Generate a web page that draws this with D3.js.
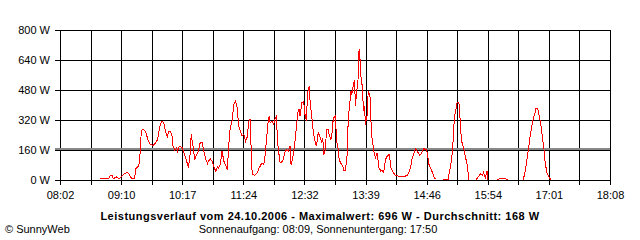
<!DOCTYPE html>
<html>
<head>
<meta charset="utf-8">
<script src="https://cdn.jsdelivr.net/npm/d3@7"></script>
<style>
    body { margin: 0; background: #fff; }
    svg { display: block; font-family: "Liberation Sans", Arial, sans-serif; }
</style>
</head>
<body>
<div id="chart"></div>
<script>
// values
const yTicks = [0, 160, 320, 480, 640, 800];
const xTickLabels = ["08:02", "09:10", "10:17", "11:24", "12:32", "13:39", "14:46", "15:54", "17:01", "18:08"];
const avgWatt = 168;

// [time, watt]; null watt = no data (gap in line)
const samples = [
    ["08:46", 4], ["08:55", 4], ["08:57", 21], ["08:59", 21], ["09:00", 4], ["09:04", 14], ["09:06", 4], ["09:08", 9],
    ["09:10", 21], ["09:13", 32], ["09:16", 39], ["09:17", 32], ["09:19", 14], ["09:21", 4], ["09:23", 4], ["09:24", 21],
    ["09:25", 58], ["09:28", 71], ["09:29", 98], ["09:30", 160], ["09:31", 258], ["09:33", 270], ["09:35", 258], ["09:36", 249],
    ["09:39", 204], ["09:41", 187], ["09:44", 181], ["09:47", 196], ["09:49", 213], ["09:50", 249], ["09:52", 293], ["09:54", 311],
    ["09:56", 299], ["09:58", 249], ["10:00", 228], ["10:01", 258], ["10:03", 258], ["10:05", 231], ["10:06", 178], ["10:08", 156],
    ["10:10", 169], ["10:11", 151], ["10:13", 178], ["10:16", 169], ["10:18", 142], ["10:20", 116], ["10:22", 80], ["10:23", 68],
    ["10:25", 142], ["10:26", 240], ["10:28", 178], ["10:30", 107], ["10:32", 133], ["10:34", 151], ["10:36", 199], ["10:38", 199],
    ["10:40", 151], ["10:42", 107], ["10:44", 85], ["10:45", 98], ["10:47", 110], ["10:49", 98], ["10:51", 68], ["10:53", 44],
    ["10:55", 68], ["10:56", 62], ["10:58", 80], ["11:00", 151], ["11:02", 98], ["11:04", 75], ["11:06", 53], ["11:07", 160],
    ["11:09", 276], ["11:11", 311], ["11:13", 400], ["11:15", 418], ["11:17", 373], ["11:18", 293], ["11:20", 258], ["11:22", 231],
    ["11:24", 240], ["11:26", 204], ["11:28", 231], ["11:29", 293], ["11:30", 320], ["11:31", 320], ["11:32", 169], ["11:33", 53],
    ["11:34", 27], ["11:36", 21], ["11:39", 36], ["11:40", 53], ["11:42", 71], ["11:44", 89], ["11:46", 80], ["11:47", 107],
    ["11:49", 213], ["11:51", 320], ["11:52", 338], ["11:53", 302], ["11:55", 311], ["11:57", 293], ["11:58", 320], ["12:00", 338],
    ["12:01", 204], ["12:03", 124], ["12:04", 89], ["12:07", 98], ["12:09", 142], ["12:11", 160], ["12:13", 151], ["12:15", 178],
    ["12:16", 80], ["12:18", 116], ["12:20", 187], ["12:22", 284], ["12:24", 373], ["12:25", 373], ["12:26", 338], ["12:28", 409],
    ["12:30", 418], ["12:31", 356], ["12:33", 311], ["12:34", 444], ["12:35", 480], ["12:36", 498], ["12:37", 418], ["12:39", 329],
    ["12:40", 276], ["12:42", 213], ["12:44", 178], ["12:46", 249], ["12:47", 240], ["12:50", 196], ["12:51", 222], ["12:52", 133],
    ["12:54", 160], ["12:55", 267], ["12:57", 267], ["12:58", 240], ["13:00", 213], ["13:01", 240], ["13:02", 302], ["13:03", 329],
    ["13:05", 338], ["13:06", 213], ["13:08", 160], ["13:09", 107], ["13:11", 85], ["13:13", 71], ["13:14", 50], ["13:16", 50],
    ["13:18", 142], ["13:19", 320], ["13:21", 418], ["13:22", 471], ["13:23", 453], ["13:25", 516], ["13:26", 524], ["13:27", 391],
    ["13:28", 453], ["13:30", 542], ["13:31", 696], ["13:32", 640], ["13:33", 551], ["13:34", 524], ["13:35", 444], ["13:36", 364],
    ["13:37", 391], ["13:38", 293], ["13:40", 347], ["13:41", 471], ["13:43", 444], ["13:44", 320], ["13:45", 231], ["13:47", 160],
    ["13:48", 133], ["13:49", 116], ["13:51", 142], ["13:52", 98], ["13:53", 62], ["13:55", 44], ["13:56", 50], ["13:58", 39],
    ["13:59", 62], ["14:00", 107], ["14:02", 124], ["14:04", 133], ["14:05", 107], ["14:06", 62], ["14:09", 36], ["14:11", 21],
    ["14:14", 18], ["14:17", 16], ["14:20", 16], ["14:24", 21], ["14:26", 39], ["14:28", 71], ["14:29", 107], ["14:31", 133],
    ["14:33", 164], ["14:35", 151], ["14:38", 128], ["14:40", 142], ["14:42", 164], ["14:45", 160], ["14:46", 142], ["14:48", 80],
    ["14:50", 57], ["14:52", 36], ["14:54", 9], ["14:56", 0], ["14:59", null], ["15:03", 0], ["15:09", 0], ["15:10", 27],
    ["15:12", 80], ["15:14", 151], ["15:15", 249], ["15:16", 329], ["15:17", 356], ["15:19", 409], ["15:21", 409], ["15:22", 347],
    ["15:23", 258], ["15:24", 204], ["15:25", 187], ["15:26", 169], ["15:28", 124], ["15:30", 80], ["15:32", 0], ["15:36", null],
    ["15:40", 0], ["15:43", 18], ["15:45", 32], ["15:47", 21], ["15:48", 39], ["15:50", 9], ["15:52", 44], ["15:53", 0],
    ["15:58", null], ["16:03", 0], ["16:08", 7], ["16:10", 7], ["16:15", 0], ["16:24", null],
    ["16:32", 0], ["16:34", 44], ["16:36", 107], ["16:38", 178], ["16:40", 249], ["16:42", 302], ["16:43", 329], ["16:45", 359],
    ["16:46", 382], ["16:48", 376], ["16:49", 347], ["16:51", 302], ["16:53", 222], ["16:55", 151], ["16:56", 89], ["16:58", 36],
    ["17:00", 14], ["17:02", 0]
];

const titleText = "Leistungsverlauf vom 24.10.2006 - Maximalwert: 696 W - Durchschnitt: 168 W";
const sunText = "Sonnenaufgang: 08:09, Sonnenuntergang: 17:50";
const creditText = "\u00A9 SunnyWeb";

// layout
let margin = {top: 30, right: 30, bottom: 60, left: 60};
let width = 640 - margin.left - margin.right;   // 550
let height = 240 - margin.top - margin.bottom;  // 150

let toMin = s => +s.slice(0, 2) * 60 + +s.slice(3, 5);
let tStart = toMin(xTickLabels[0]);
let tEnd = toMin(xTickLabels[xTickLabels.length - 1]);

let svg = d3.select("#chart").append("svg")
    .attr("width", 640)
    .attr("height", 240);

let x = d3.scaleLinear()
    .domain([tStart, tEnd])
    .range([margin.left, margin.left + width]);

let y = d3.scaleLinear()
    .domain([0, d3.max(yTicks)])
    .range([margin.top + height, margin.top]);

// 18 grid columns, every second one labelled
let gridTimes = d3.range(19).map(i => tStart + i * (tEnd - tStart) / 18);

let xAxis = d3.axisBottom(x)
    .tickValues(gridTimes)
    .tickSize(height + 5)
    .tickPadding(6)
    .tickFormat((d, i) => i % 2 ? "" : xTickLabels[i / 2]);

let yAxis = d3.axisLeft(y)
    .tickValues(yTicks)
    .tickSize(width + 5)
    .tickPadding(5)
    .tickFormat(d => d + " W");

svg.append("g")
    .attr("class", "x-axis")
    .attr("transform", "translate(0," + margin.top + ")")
    .call(xAxis)
    .call(g => g.select(".domain").remove());

svg.append("g")
    .attr("class", "y-axis")
    .attr("transform", "translate(" + (margin.left + width) + ",0)")
    .call(yAxis)
    .call(g => g.select(".domain").remove());

svg.selectAll(".x-axis, .y-axis")
    .attr("font-size", 11)
    .attr("font-family", null)
    .attr("shape-rendering", "crispEdges");
svg.selectAll(".tick line").attr("stroke", "#000");
svg.selectAll(".tick text").attr("fill", "#000");

// average line (Durchschnitt)
svg.append("line")
    .attr("x1", margin.left - 5)
    .attr("x2", margin.left + width)
    .attr("y1", Math.round(y(avgWatt)) - 0.5)
    .attr("y2", Math.round(y(avgWatt)) - 0.5)
    .attr("stroke", "#888")
    .attr("stroke-width", 2)
    .attr("shape-rendering", "crispEdges");

// power curve
let line = d3.line()
    .defined(d => d[1] !== null)
    .x(d => x(toMin(d[0])))
    .y(d => y(d[1]));

svg.append("path")
    .datum(samples)
    .attr("transform", "translate(0.5,-0.5)")
    .attr("fill", "none")
    .attr("stroke", "#ff0000")
    .attr("stroke-width", 1)
    .attr("shape-rendering", "crispEdges")
    .attr("d", line);

// texts below
svg.append("text")
    .attr("x", 320)
    .attr("y", 220)
    .attr("text-anchor", "middle")
    .attr("font-size", 11)
    .attr("font-weight", "bold")
    .attr("letter-spacing", 0.5)
    .text(titleText);

svg.append("text")
    .attr("x", 318)
    .attr("y", 233)
    .attr("text-anchor", "middle")
    .attr("font-size", 11)
    .text(sunText);

svg.append("text")
    .attr("x", 5)
    .attr("y", 233)
    .attr("font-size", 11)
    .text(creditText);
</script>
</body>
</html>
